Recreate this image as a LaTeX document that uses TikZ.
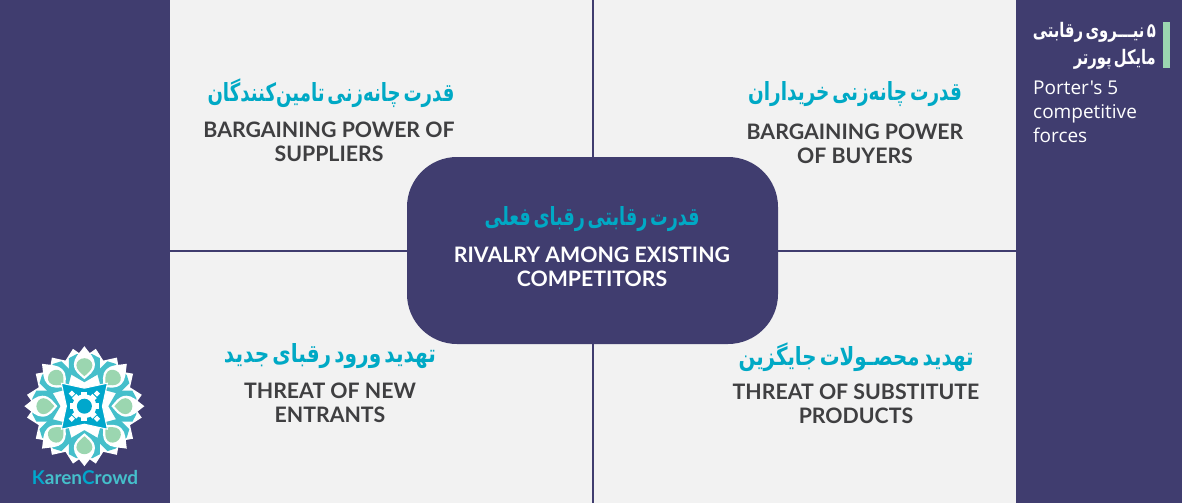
\documentclass[tikz,border=0pt]{standalone}
\usepackage{graphicx}
\usepackage{fontspec}
\setmainfont{Lato}
\newfontfamily\fa[Script=Arabic,WordSpace=0.45]{DejaVu Sans}
\newfontfamily\en{Lato}
\newfontfamily\pn{Open Sans}
\TeXXeTstate=1
\definecolor{navy}{HTML}{403D6F}
\definecolor{panel}{HTML}{F2F2F2}
\definecolor{cyantx}{HTML}{00A9C5}
\definecolor{greytx}{HTML}{3F3F41}
\definecolor{mint}{HTML}{9BD6B0}
\definecolor{teal}{HTML}{45BFCB}
\definecolor{blue2}{HTML}{00A7CC}
\newcommand{\fitfa}[2]{\resizebox{#1pt}{\height}{#2}}
\tikzset{
 x=1pt,y=-1pt,
 fatext/.style={text=cyantx,font=\fa\bfseries\fontsize{25}{30}\selectfont,inner sep=0pt},
 fapanel/.style={text=white,font=\fa\bfseries\fontsize{20}{24}\selectfont,anchor=east,inner sep=0pt},
 entext/.style={text=greytx,font=\en\bfseries\fontsize{21.3}{24}\selectfont,align=center,inner sep=0pt},
 hub/.style={fill=navy,rounded corners=50pt,draw=none},
 divider/.style={draw=navy,line width=2pt},
}
\begin{document}
\begin{tikzpicture}
\useasboundingbox (0,0) rectangle (1182,503);
\fill[panel] (0,0) rectangle (1182,503);
\fill[navy] (0,0) rectangle (170,503);
\fill[navy] (1016,0) rectangle (1182,503);
\coordinate (vt) at (592.5,0);
\coordinate (vb) at (592.5,503);
\coordinate (hl) at (170,251);
\coordinate (hr) at (1016,251);
\draw[divider] (vt) -- (vb);
\draw[divider] (hl) -- (hr);
\fill[hub] (407,157) rectangle (778,344);
% quadrant text
\node[fatext] (tlfa) at (331,93) {\fitfa{247}{\beginR قدرت چانه‌زنی تامین‌کنندگان\endR}};
\node[entext] (tlen) at (329,142) {BARGAINING POWER OF\\SUPPLIERS};
\node[fatext] (trfa) at (855,94) {\fitfa{214}{\beginR قدرت چانه‌زنی خریداران\endR}};
\node[entext] (tren) at (855,144) {BARGAINING POWER\\OF BUYERS};
\node[fatext] (cfa) at (592,219) {\fitfa{215}{\beginR قدرت رقابتی رقبای فعلی\endR}};
\node[entext,text=white] (cen) at (592,267) {RIVALRY AMONG EXISTING\\COMPETITORS};
\node[fatext] (blfa) at (330,356) {\fitfa{212}{\beginR تهدید ورود رقبای جدید\endR}};
\node[entext] (blen) at (330,403) {THREAT OF NEW\\ENTRANTS};
\node[fatext] (brfa) at (856,357) {\fitfa{235}{\beginR تهدید محصـولات جایگزین\endR}};
\node[entext] (bren) at (856,404) {THREAT OF SUBSTITUTE\\PRODUCTS};
% right panel
\fill[mint] (1163,22) rectangle (1170,68);
\node[fapanel] (p1) at (1156,32) {\fitfa{123}{\beginR ۵ نیـــروی رقابتی\endR}};
\node[fapanel] (p2) at (1156,59) {\fitfa{82}{\beginR مایکل پورتر\endR}};
\node[text=white,font=\pn\fontsize{19}{23.7}\selectfont,align=left,anchor=north west,inner sep=0pt] (p3) at (1033,81) {Porter's 5\\competitive\\forces};
% logo
\begin{scope}[shift={(84.4,406.2)}]
 \foreach \a in {0,22.5,...,337.5}{
  \fill[white,rotate=\a+11.25] (-11,-47) -- (0,-58.5) -- (11,-47) -- (0,0) -- cycle;
 }
 \fill[white] (0,0) circle (49);
 \foreach \a in {0,45,...,315}{
  \begin{scope}[rotate=\a]
   \fill[teal] (0,-24) -- (-15.5,-33) -- (-15.5,-48) -- (-8,-52) -- (8,-52) -- (15.5,-48) -- (15.5,-33) -- cycle;
   \fill[white] (0,-27) .. controls (-4,-31) and (-10.5,-34) .. (-10.5,-42) .. controls (-10.5,-48) and (-6,-52) .. (0,-60) .. controls (6,-52) and (10.5,-48) .. (10.5,-42) .. controls (10.5,-34) and (4,-31) .. (0,-27) -- cycle;
   \fill[mint] (0,-30) .. controls (-3,-33) and (-8,-36) .. (-8,-41) .. controls (-8,-45) and (-4,-48) .. (0,-48) .. controls (4,-48) and (8,-45) .. (8,-41) .. controls (8,-36) and (3,-33) .. (0,-30) -- cycle;
  \end{scope}
 }
 \fill[blue2,draw=white,line width=1pt] (-23,-23) -- (0,-18) -- (23,-23) -- (18,0) -- (23,23) -- (0,18) -- (-23,23) -- (-18,0) -- cycle;
 \foreach \a in {45,135,225,315}{
  \fill[white,rotate=\a] (-2.2,-20) rectangle (2.2,-15.6);
 }
 \foreach \a in {0,45,...,315}{\fill[white,rotate=\a] (-3,-14.5) rectangle (3,-10);}
 \fill[white] (0,0) circle (12);
 \fill[blue2] (0,0) circle (7.5);
\end{scope}
\node[font=\en\bfseries\fontsize{19}{22}\selectfont,inner sep=0pt,text=teal] (logo) at (85,478) {\textcolor{blue2}{K}aren\textcolor{blue2}{C}rowd};
\end{tikzpicture}
\end{document}
